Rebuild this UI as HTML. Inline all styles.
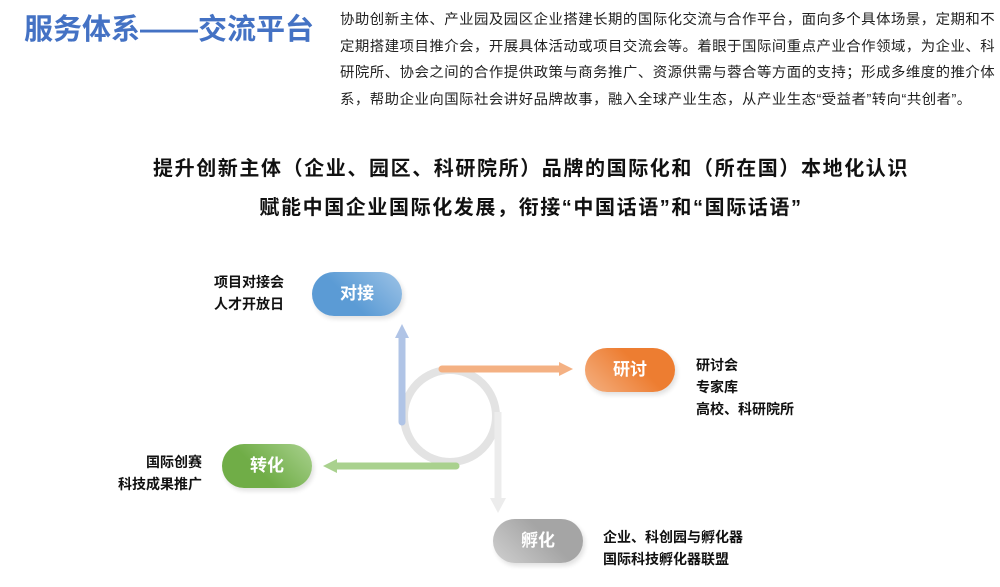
<!DOCTYPE html>
<html><head><meta charset="utf-8"><style>
body{margin:0;width:1000px;height:587px;background:#fff;position:relative;overflow:hidden;font-family:"Liberation Sans","Noto Sans CJK SC",sans-serif;}
.a{position:absolute;}
.title{left:24px;top:6px;font-size:29px;font-weight:bold;color:#4472c4;white-space:nowrap;}
.para{left:340px;top:7px;width:660px;font-size:14.4px;letter-spacing:0.5px;line-height:26.5px;color:#222;}
.h{left:0;width:1062px;text-align:center;font-size:20px;letter-spacing:1.6px;font-weight:bold;color:#111;white-space:nowrap;}
.pill{position:absolute;width:90px;height:44px;border-radius:22px;color:#fff;font-weight:bold;font-size:17px;text-align:center;line-height:44px;box-shadow:2px 3px 5px rgba(0,0,0,0.12);}
.lbl{position:absolute;font-size:14px;font-weight:bold;line-height:22px;color:#111;white-space:nowrap;}
</style></head><body>
<div class="a title">服务体系——交流平台</div>
<div class="a para">协助创新主体、产业园及园区企业搭建长期的国际化交流与合作平台，面向多个具体场景，定期和不定期搭建项目推介会，开展具体活动或项目交流会等。着眼于国际间重点产业合作领域，为企业、科研院所、协会之间的合作提供政策与商务推广、资源供需与蓉合等方面的支持；形成多维度的推介体系，帮助企业向国际社会讲好品牌故事，融入全球产业生态，从产业生态“受益者”转向“共创者”。</div>
<div class="a h" style="top:152px">提升创新主体（企业、园区、科研院所）品牌的国际化和（所在国）本地化认识</div>
<div class="a h" style="top:191px">赋能中国企业国际化发展，衔接“中国话语”和“国际话语”</div>
<svg class="a" style="left:0;top:0" width="1000" height="587">
<circle cx="450" cy="416" r="46" fill="none" stroke="#e3e3e3" stroke-width="8"/>
<line x1="498" y1="412" x2="498" y2="500" stroke="#ececec" stroke-width="7"/>
<polygon points="490,498 506,498 498,513" fill="#ececec"/>
<line x1="402" y1="422" x2="402" y2="338" stroke="#b0c4e6" stroke-width="7" stroke-linecap="round"/>
<polygon points="395,338 409,338 402,324" fill="#b0c4e6"/>
<line x1="442" y1="369" x2="560" y2="369" stroke="#f4b183" stroke-width="7" stroke-linecap="round"/>
<polygon points="559,362 559,376 573,369" fill="#f4b183"/>
<line x1="456" y1="466" x2="336" y2="466" stroke="#a9d18e" stroke-width="7" stroke-linecap="round"/>
<polygon points="337,459 337,473 323,466" fill="#a9d18e"/>
</svg>
<div class="pill" style="left:312px;top:272px;background:linear-gradient(225deg,#9dc3e6,#5b9bd5 60%)">对接</div>
<div class="pill" style="left:585px;top:348px;background:linear-gradient(225deg,#ed7d31 40%,#f4b183)">研讨</div>
<div class="pill" style="left:222px;top:444px;background:linear-gradient(225deg,#a9d18e,#70ad47 60%)">转化</div>
<div class="pill" style="left:493px;top:519px;background:linear-gradient(225deg,#a5a5a5 40%,#d0d0d0)">孵化</div>
<div class="lbl" style="left:214px;top:271px">项目对接会<br>人才开放日</div>
<div class="lbl" style="left:696px;top:354px">研讨会<br>专家库<br>高校、科研院所</div>
<div class="lbl" style="left:100px;top:451px;text-align:right;width:102px">国际创赛<br>科技成果推广</div>
<div class="lbl" style="left:603px;top:526px">企业、科创园与孵化器<br>国际科技孵化器联盟</div>
</body></html>
